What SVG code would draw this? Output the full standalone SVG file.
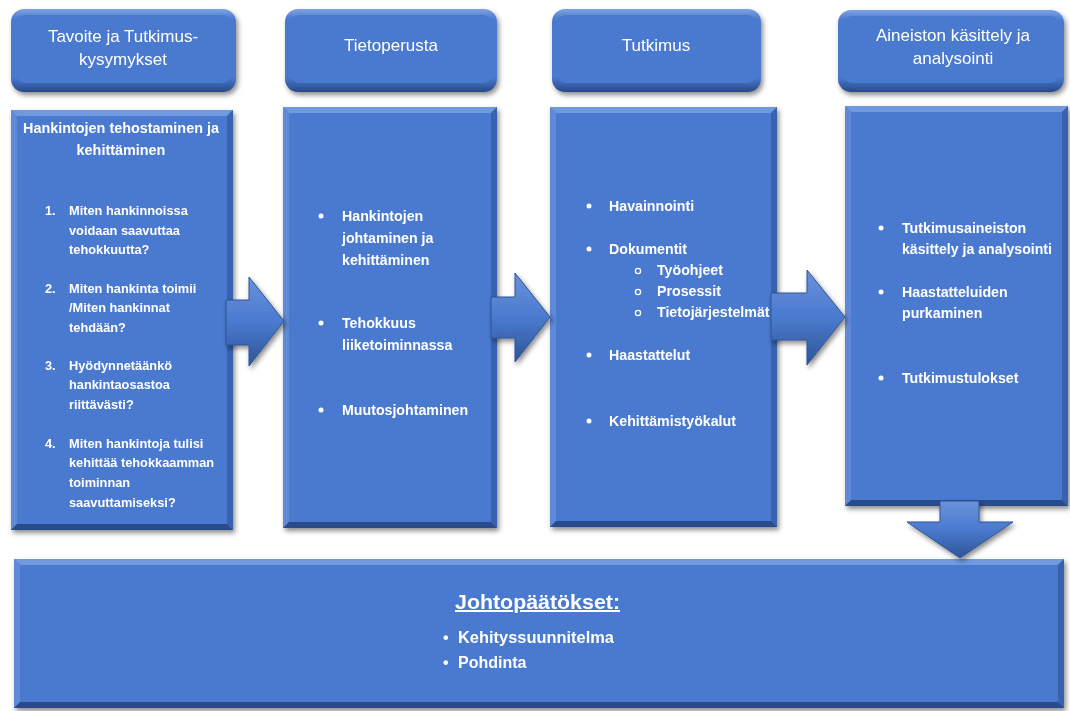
<svg xmlns="http://www.w3.org/2000/svg" width="1070" height="711" viewBox="0 0 1070 711">
<defs>
<style>
.face{fill:#4a7acf}
.bt{fill:#7199dd}
.bl{fill:#6089d6}
.br{fill:#3762ad}
.bb{fill:#2a4c8b}
.hdr{font-family:"Liberation Sans",Arial,sans-serif;font-size:17px;fill:#fff;text-anchor:middle}
.tb{font-family:"Liberation Sans",Arial,sans-serif;font-weight:bold;fill:#fff}
.s12{font-size:12.8px}
.s13{font-size:14.2px}
.dot{fill:#fff}
.ring{fill:none;stroke:#fff;stroke-width:1.3}
.arrow{fill:url(#ag);stroke:#2f5597;stroke-width:1}
</style>
<linearGradient id="hg" x1="0" y1="0" x2="0" y2="1">
<stop offset="0" stop-color="#7ea3e2"/>
<stop offset="0.12" stop-color="#4a7acf"/>
<stop offset="0.82" stop-color="#4a7acf"/>
<stop offset="1" stop-color="#27498a"/>
</linearGradient>
<linearGradient id="ag" x1="0" y1="0" x2="0" y2="1">
<stop offset="0" stop-color="#6a92d9"/>
<stop offset="0.5" stop-color="#4a7acf"/>
<stop offset="1" stop-color="#2f5597"/>
</linearGradient>
<filter id="sh" x="-10%" y="-10%" width="120%" height="130%">
<feDropShadow dx="2" dy="3" stdDeviation="2.5" flood-color="#000" flood-opacity="0.45"/>
</filter>
</defs>
<rect width="1070" height="711" fill="#fff"/>

<g id="h1" filter="url(#sh)">
<rect x="11" y="9" width="225" height="83" rx="13" fill="url(#hg)"/>
<rect x="16" y="15" width="215" height="68" rx="9" class="face"/>
<text class="hdr" x="123" y="42">Tavoite ja Tutkimus-</text>
<text class="hdr" x="123" y="65">kysymykset</text>
</g>
<g id="h2" filter="url(#sh)">
<rect x="285" y="9" width="212" height="83" rx="13" fill="url(#hg)"/>
<rect x="290" y="15" width="202" height="68" rx="9" class="face"/>
<text class="hdr" x="391" y="51">Tietoperusta</text>
</g>
<g id="h3" filter="url(#sh)">
<rect x="552" y="9" width="209" height="83" rx="13" fill="url(#hg)"/>
<rect x="557" y="15" width="199" height="68" rx="9" class="face"/>
<text class="hdr" x="656" y="51">Tutkimus</text>
</g>
<g id="h4" filter="url(#sh)">
<rect x="838" y="10" width="226" height="82" rx="13" fill="url(#hg)"/>
<rect x="843" y="16" width="216" height="67" rx="9" class="face"/>
<text class="hdr" x="953" y="41">Aineiston käsittely ja</text>
<text class="hdr" x="953" y="64">analysointi</text>
</g>

<g id="c1" filter="url(#sh)">
<rect x="11" y="110" width="222" height="420" class="face"/>
<polygon class="bt" points="11,110 233,110 227,116 17,116"/>
<polygon class="bl" points="11,110 17,116 17,524 11,530"/>
<polygon class="br" points="233,110 233,530 227,524 227,116"/>
<polygon class="bb" points="11,530 233,530 227,524 17,524"/>
<text class="tb" x="121" y="133" font-size="14.4" text-anchor="middle">Hankintojen tehostaminen ja</text>
<text class="tb" x="121" y="155" font-size="14.4" text-anchor="middle">kehittäminen</text>
<g class="tb s12">
<text x="45" y="215">1.</text>
<text x="69" y="215">Miten hankinnoissa</text>
<text x="69" y="235">voidaan saavuttaa</text>
<text x="69" y="254">tehokkuutta?</text>
<text x="45" y="293">2.</text>
<text x="69" y="293">Miten hankinta toimii</text>
<text x="69" y="312">/Miten hankinnat</text>
<text x="69" y="332">tehdään?</text>
<text x="45" y="370">3.</text>
<text x="69" y="370">Hyödynnetäänkö</text>
<text x="69" y="389">hankintaosastoa</text>
<text x="69" y="409">riittävästi?</text>
<text x="45" y="448">4.</text>
<text x="69" y="448">Miten hankintoja tulisi</text>
<text x="69" y="467">kehittää tehokkaamman</text>
<text x="69" y="487">toiminnan</text>
<text x="69" y="507">saavuttamiseksi?</text>
</g>
</g>

<g id="c2" filter="url(#sh)">
<rect x="283" y="107" width="214" height="421" class="face"/>
<polygon class="bt" points="283,107 497,107 491,113 289,113"/>
<polygon class="bl" points="283,107 289,113 289,522 283,528"/>
<polygon class="br" points="497,107 497,528 491,522 491,113"/>
<polygon class="bb" points="283,528 497,528 491,522 289,522"/>
<g class="tb s13">
<text x="342" y="221">Hankintojen</text>
<text x="342" y="243">johtaminen ja</text>
<text x="342" y="265">kehittäminen</text>
<text x="342" y="328">Tehokkuus</text>
<text x="342" y="350">liiketoiminnassa</text>
<text x="342" y="415">Muutosjohtaminen</text>
</g>
<circle class="dot" cx="321" cy="216" r="2.5"/>
<circle class="dot" cx="321" cy="323" r="2.5"/>
<circle class="dot" cx="321" cy="410" r="2.5"/>
</g>

<g id="c3" filter="url(#sh)">
<rect x="550" y="107" width="227" height="420" class="face"/>
<polygon class="bt" points="550,107 777,107 771,113 556,113"/>
<polygon class="bl" points="550,107 556,113 556,521 550,527"/>
<polygon class="br" points="777,107 777,527 771,521 771,113"/>
<polygon class="bb" points="550,527 777,527 771,521 556,521"/>
<g class="tb s13">
<text x="609" y="211">Havainnointi</text>
<text x="609" y="254">Dokumentit</text>
<text x="657" y="275">Työohjeet</text>
<text x="657" y="296">Prosessit</text>
<text x="657" y="317">Tietojärjestelmät</text>
<text x="609" y="360">Haastattelut</text>
<text x="609" y="426">Kehittämistyökalut</text>
</g>
<circle class="dot" cx="589" cy="206" r="2.5"/>
<circle class="dot" cx="589" cy="249" r="2.5"/>
<circle class="ring" cx="638" cy="271" r="2.6"/>
<circle class="ring" cx="638" cy="292" r="2.6"/>
<circle class="ring" cx="638" cy="313" r="2.6"/>
<circle class="dot" cx="589" cy="355" r="2.5"/>
<circle class="dot" cx="589" cy="421" r="2.5"/>
</g>

<g id="c4" filter="url(#sh)">
<rect x="845" y="106" width="223" height="400" class="face"/>
<polygon class="bt" points="845,106 1068,106 1062,112 851,112"/>
<polygon class="bl" points="845,106 851,112 851,500 845,506"/>
<polygon class="br" points="1068,106 1068,506 1062,500 1062,112"/>
<polygon class="bb" points="845,506 1068,506 1062,500 851,500"/>
<g class="tb s13">
<text x="902" y="233">Tutkimusaineiston</text>
<text x="902" y="254" textLength="150" lengthAdjust="spacingAndGlyphs">käsittely ja analysointi</text>
<text x="902" y="297">Haastatteluiden</text>
<text x="902" y="318">purkaminen</text>
<text x="902" y="383">Tutkimustulokset</text>
</g>
<circle class="dot" cx="881" cy="228" r="2.5"/>
<circle class="dot" cx="881" cy="292" r="2.5"/>
<circle class="dot" cx="881" cy="378" r="2.5"/>
</g>

<g id="c5" filter="url(#sh)">
<rect x="14" y="559" width="1050" height="149" class="face"/>
<polygon class="bt" points="14,559 1064,559 1058,565 20,565"/>
<polygon class="bl" points="14,559 20,565 20,702 14,708"/>
<polygon class="br" points="1064,559 1064,708 1058,702 1058,565"/>
<polygon class="bb" points="14,708 1064,708 1058,702 20,702"/>
<text class="tb" x="455" y="609" font-size="20" textLength="165" lengthAdjust="spacingAndGlyphs" text-decoration="underline">Johtopäätökset:</text>
<text class="tb" x="443" y="643" font-size="16">•</text>
<text class="tb" x="458" y="643" font-size="16" textLength="156" lengthAdjust="spacingAndGlyphs">Kehityssuunnitelma</text>
<text class="tb" x="443" y="668" font-size="16">•</text>
<text class="tb" x="458" y="668" font-size="16">Pohdinta</text>
</g>

<g id="connectors" filter="url(#sh)">
<polygon class="arrow" points="226,300 249,300 249,277 284,321 249,366 249,345 226,345"/>
<polygon class="arrow" points="491,297 515,297 515,273 550,317 515,362 515,338 491,338"/>
<polygon class="arrow" points="771,293 807,293 807,270 845,317 807,365 807,340 771,340"/>
<polygon class="arrow" points="940,501 979,501 979,522 1013,522 960,558 907,522 940,522"/>
</g>
</svg>
